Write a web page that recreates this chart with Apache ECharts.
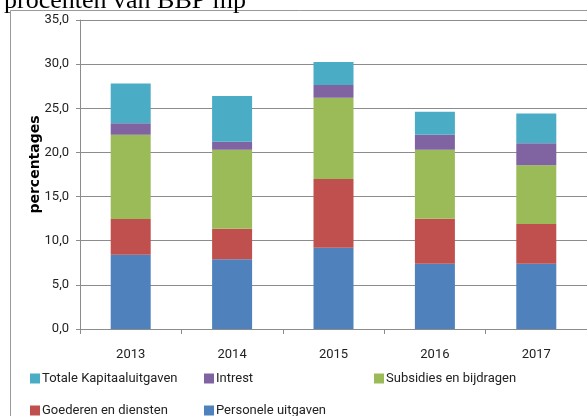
<!DOCTYPE html>
<html>
<head>
<meta charset="utf-8">
<script src="https://cdn.jsdelivr.net/npm/echarts@6/dist/echarts.min.js"></script>
<style>
  html, body { margin: 0; padding: 0; background: #fff; }
  #chart { width: 587px; height: 416px; }
</style>
</head>
<body>
<div id="chart"></div>
<script>
// categories and values (percent of GDP)
var years = ['2013', '2014', '2015', '2016', '2017'];
var personele = [8.4, 7.9, 9.2, 7.4, 7.4];
var goederen = [4.05, 3.45, 7.8, 5.1, 4.5];
var subsidies = [9.55, 8.95, 9.2, 7.8, 6.65];
var intrest = [1.3, 0.9, 1.45, 1.7, 2.5];
var kapitaal = [4.5, 5.2, 2.6, 2.6, 3.35];
var yTicks = [0, 5, 10, 15, 20, 25, 30, 35];

var font = 'Roboto, sans-serif';

var chart = echarts.init(document.getElementById('chart'));

function legendAt(name, left, top) {
    return {
        data: [name],
        left: left,
        top: top,
        itemWidth: 10,
        itemHeight: 10,
        icon: 'rect',
        itemGap: 4,
        textStyle: { fontFamily: font, fontSize: 13, color: '#222', padding: [0, 0, 0, -3] }
    };
}

function bar(name, data, color) {
    return {
        name: name,
        type: 'bar',
        stack: 'totaal',
        barWidth: 40,
        data: data,
        itemStyle: { color: color }
    };
}

var option = {
    animation: false,
    title: {
        text: 'procenten van BBP mp',
        left: -1,
        top: -17,
        textStyle: { fontFamily: '"Liberation Serif", serif', fontSize: 26, fontWeight: 'normal', color: '#000' }
    },
    graphic: [{
        type: 'rect',
        shape: { x: 10.5, y: 10.5, width: 600, height: 420 },
        style: { fill: null, stroke: '#9a9a9a', lineWidth: 1 },
        z: -1
    }],
    legend: [
        legendAt('Totale Kapitaaluitgaven', 25, 367),
        legendAt('Intrest', 199, 367),
        legendAt('Subsidies en bijdragen', 369, 367),
        legendAt('Goederen en diensten', 25, 399),
        legendAt('Personele uitgaven', 199, 399)
    ],
    grid: { left: 80, right: 0, top: 20, bottom: 87 },
    xAxis: {
        type: 'category',
        data: years,
        axisLine: { lineStyle: { color: '#8c8c8c' } },
        axisTick: { show: true, length: 5, lineStyle: { color: '#8c8c8c' } },
        axisLabel: { fontFamily: font, fontSize: 13, color: '#222', margin: 19 }
    },
    yAxis: {
        type: 'value',
        min: 0,
        max: 35,
        interval: 5,
        name: 'percentages',
        nameLocation: 'middle',
        nameGap: 38,
        nameMoveOverlap: false,
        nameTextStyle: {
            fontFamily: '"DejaVu Sans", sans-serif', fontSize: 14, fontWeight: 'bold', color: '#000',
            padding: [0, 0, 0, 20]
        },
        axisLine: { show: true, lineStyle: { color: '#8c8c8c' } },
        axisTick: { show: true, length: 4, lineStyle: { color: '#8c8c8c' } },
        splitLine: { lineStyle: { color: '#8c8c8c' } },
        axisLabel: {
            fontFamily: font, fontSize: 13, color: '#222', margin: 11,
            formatter: function (v) { return v.toFixed(1).replace('.', ','); }
        }
    },
    series: [
        bar('Personele uitgaven', personele, '#4F81BD'),
        bar('Goederen en diensten', goederen, '#C0504D'),
        bar('Subsidies en bijdragen', subsidies, '#9BBB59'),
        bar('Intrest', intrest, '#8064A2'),
        bar('Totale Kapitaaluitgaven', kapitaal, '#4BACC6')
    ]
};

chart.setOption(option);
</script>
</body>
</html>
